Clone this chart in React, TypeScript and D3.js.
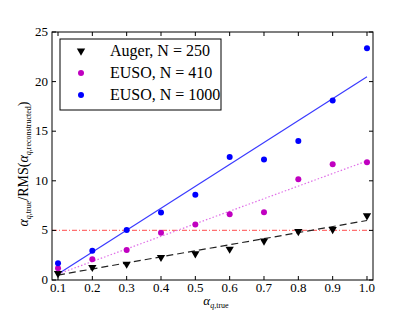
import { useEffect, useRef } from 'react';
import * as d3 from 'd3';

const alphaTrue = [0.1, 0.2, 0.3, 0.4, 0.5, 0.6, 0.7, 0.8, 0.9, 1.0];
const augerVals = [0.67, 1.28, 1.61, 2.29, 2.65, 3.12, 3.93, 4.9, 5.1, 6.48];
const euso410Vals = [1.18, 2.08, 3.02, 4.77, 5.6, 6.62, 6.82, 10.15, 11.66, 11.86];
const euso1000Vals = [1.68, 2.96, 5.04, 6.8, 8.6, 12.4, 12.15, 14.0, 18.1, 23.35];
// fitted lines: [value at 0.1, value at 1.0]
const augerFit = [0.5, 6.0];
const euso410Fit = [0.6, 12.0];
const euso1000Fit = [0.6, 20.5];
const xTicks = [0.1, 0.2, 0.3, 0.4, 0.5, 0.6, 0.7, 0.8, 0.9, 1.0];
const yTicks = [0, 5, 10, 15, 20, 25];
const legendLabels = ['Auger, N = 250', 'EUSO, N = 410', 'EUSO, N = 1000'];

const App = () => {
  const svgRef = useRef(null);

  useEffect(() => {
    if (!svgRef.current) return;
    const svg = d3.select(svgRef.current);
    svg.selectAll('*').remove();

    const margin = { top: 32, right: 42, bottom: 32, left: 52 };
    const W = 415, H = 312;
    const w = W - margin.left - margin.right;
    const h = H - margin.top - margin.bottom;
    const font = '"Liberation Serif", "DejaVu Serif", serif';

    const x = d3.scaleLinear().domain([0.0825, 1.0175]).range([0, w]);
    const y = d3.scaleLinear().domain([0, 25]).range([h, 0]);

    const g = svg.append('g').attr('transform', `translate(${margin.left},${margin.top})`);

    // reference line at 5
    g.append('line')
      .attr('x1', 0).attr('x2', w)
      .attr('y1', y(5)).attr('y2', y(5))
      .attr('stroke', '#ff7070').attr('stroke-width', 1.2)
      .attr('stroke-dasharray', '5,2,1,2');

    const fits = [
      { f: augerFit, color: '#222', dash: '7,4' },
      { f: euso410Fit, color: '#e070e8', dash: '1.5,2' },
      { f: euso1000Fit, color: '#3a3aff', dash: null },
    ];
    fits.forEach(d => {
      const l = g.append('line')
        .attr('x1', x(0.1)).attr('y1', y(d.f[0]))
        .attr('x2', x(1.0)).attr('y2', y(d.f[1]))
        .attr('stroke', d.color).attr('stroke-width', 1.2);
      if (d.dash) l.attr('stroke-dasharray', d.dash);
    });

    const tri = d3.symbol().type(d3.symbolTriangle).size(30);

    g.selectAll('.auger').data(alphaTrue).enter().append('path')
      .attr('d', tri)
      .attr('transform', (d, i) => `translate(${x(d)},${y(augerVals[i])}) rotate(180)`)
      .attr('fill', 'black');

    g.selectAll('.e410').data(alphaTrue).enter().append('circle')
      .attr('cx', d => x(d)).attr('cy', (d, i) => y(euso410Vals[i]))
      .attr('r', 3).attr('fill', '#c000c0');

    g.selectAll('.e1000').data(alphaTrue).enter().append('circle')
      .attr('cx', d => x(d)).attr('cy', (d, i) => y(euso1000Vals[i]))
      .attr('r', 3).attr('fill', 'blue');

    // frame
    g.append('rect').attr('width', w).attr('height', h)
      .attr('fill', 'none').attr('stroke', 'black').attr('stroke-width', 1);

    // ticks inward on all sides
    xTicks.forEach(t => {
      g.append('line').attr('x1', x(t)).attr('x2', x(t)).attr('y1', h).attr('y2', h - 4).attr('stroke', 'black');
      g.append('line').attr('x1', x(t)).attr('x2', x(t)).attr('y1', 0).attr('y2', 4).attr('stroke', 'black');
      g.append('text').attr('x', x(t)).attr('y', h + 12)
        .attr('text-anchor', 'middle').style('font-family', font).attr('font-size', 13)
        .text(t.toFixed(1));
    });
    yTicks.forEach(t => {
      g.append('line').attr('x1', 0).attr('x2', 4).attr('y1', y(t)).attr('y2', y(t)).attr('stroke', 'black');
      g.append('line').attr('x1', w).attr('x2', w - 4).attr('y1', y(t)).attr('y2', y(t)).attr('stroke', 'black');
      g.append('text').attr('x', -4).attr('y', y(t) + 4)
        .attr('text-anchor', 'end').style('font-family', font).attr('font-size', 13)
        .text(t);
    });

    // legend
    const lg = g.append('g').attr('transform', 'translate(8,7)');
    lg.append('rect').attr('width', 161).attr('height', 71)
      .attr('fill', 'white').attr('stroke', 'black').attr('stroke-width', 1);
    const rows = [12, 34, 56];
    lg.append('path').attr('d', tri).attr('transform', `translate(21,${rows[0]}) rotate(180)`).attr('fill', 'black');
    lg.append('circle').attr('cx', 21).attr('cy', rows[1]).attr('r', 3).attr('fill', '#c000c0');
    lg.append('circle').attr('cx', 21).attr('cy', rows[2]).attr('r', 3).attr('fill', 'blue');
    legendLabels.forEach((s, i) => {
      lg.append('text').attr('x', 50).attr('y', rows[i] + 5)
        .style('font-family', font).attr('font-size', 16).text(s);
    });

    // x label
    const xl = svg.append('text').attr('x', 216).attr('y', 305)
      .attr('text-anchor', 'middle').style('font-family', font).attr('font-size', 13);
    xl.append('tspan').attr('font-style', 'italic').text('α');
    xl.append('tspan').attr('font-size', 8).attr('dy', 3).attr('font-style', 'italic').text('q');
    xl.append('tspan').attr('font-size', 8).text(',true');

    // y label
    const yl = svg.append('text').attr('transform', 'translate(28,164) rotate(-90)')
      .attr('text-anchor', 'middle').style('font-family', font).attr('font-size', 14);
    yl.append('tspan').attr('font-style', 'italic').text('α');
    yl.append('tspan').attr('font-size', 8).attr('dy', 3).attr('font-style', 'italic').text('q');
    yl.append('tspan').attr('font-size', 8).text(',true');
    yl.append('tspan').attr('dy', -3).text('/RMS(');
    yl.append('tspan').attr('font-style', 'italic').text('α');
    yl.append('tspan').attr('font-size', 8).attr('dy', 3).attr('font-style', 'italic').text('q');
    yl.append('tspan').attr('font-size', 8).text(',reconstructed');
    yl.append('tspan').attr('dy', -3).text(')');
  }, []);

  return <svg ref={svgRef} width={415} height={312} style={{ display: 'block', position: 'absolute', left: 0, top: 0 }}></svg>;
};

export default App;
